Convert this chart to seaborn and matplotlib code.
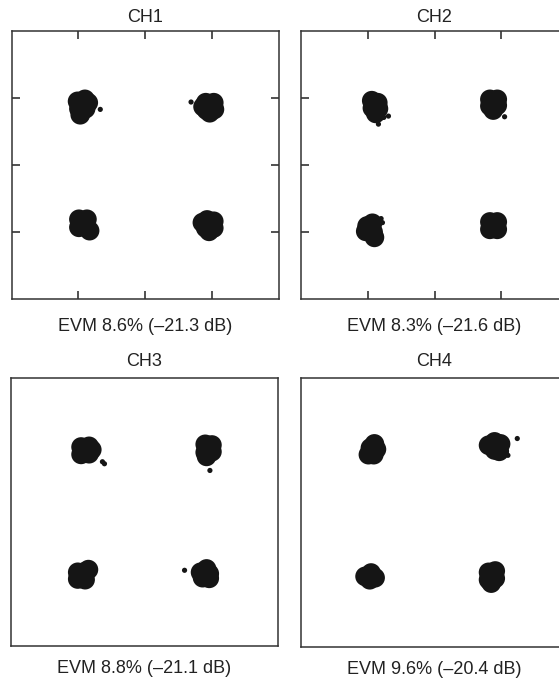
import matplotlib
matplotlib.use("Agg")
import matplotlib.pyplot as plt
import seaborn as sns
import pandas as pd

sns.set_theme(style="white")
plt.rcParams['font.family'] = ['Liberation Sans', 'DejaVu Sans']

# ---------------- data (I/Q symbols) ----------------
channels = ["CH1", "CH2", "CH3", "CH4"]
evm_labels = ["EVM 8.6% (\u201321.3 dB)", "EVM 8.3% (\u201321.6 dB)",
              "EVM 8.8% (\u201321.1 dB)", "EVM 9.6% (\u201320.4 dB)"]
tick_values = [-1, 0, 1]

ch1_i = [-1.01, -0.90, -0.99, -0.89, -0.97, -0.85,
         0.91, 1.03, 0.92, 1.04, 0.97, 0.87,
         -0.99, -0.87, -0.99, -0.87, -0.83,
         0.93, 1.03, 0.91, 1.03, 0.96, 0.86]
ch1_q = [0.95, 0.98, 0.84, 0.84, 0.75, 0.93,
         0.93, 0.93, 0.82, 0.83, 0.78, 0.87,
         -0.81, -0.81, -0.93, -0.93, -0.98,
         -0.82, -0.84, -0.94, -0.94, -0.99, -0.86]
ch1_out_i = [-0.67, 0.69]
ch1_out_q = [0.83, 0.94]

ch2_i = [-0.94, -0.85, -0.93, -0.84, -0.88,
         0.83, 0.94, 0.83, 0.94, 0.88,
         -1.01, -0.93, -1.03, -0.92, -0.90,
         0.83, 0.94, 0.83, 0.94]
ch2_q = [0.96, 0.93, 0.85, 0.84, 0.77,
         0.98, 0.98, 0.88, 0.89, 0.82,
         -0.91, -0.87, -0.99, -1.00, -1.08,
         -0.85, -0.85, -0.96, -0.96]
ch2_out_i = [-0.84, -0.69, -0.75, -0.76, 1.05, 0.80, -0.80, -0.78]
ch2_out_q = [0.61, 0.73, 0.85, 0.71, 0.72, 0.78, -0.80, -0.86]

ch3_i = [-0.95, -0.83, -0.95, -0.83, -0.79,
         0.91, 1.01, 0.91, 1.01, 0.93,
         -1.00, -0.89, -1.00, -0.89, -0.84,
         0.84, 0.93, 0.97, 0.87, 0.97]
ch3_q = [0.97, 0.98, 0.86, 0.87, 0.93,
         1.01, 1.00, 0.89, 0.90, 0.83,
         -0.90, -0.89, -1.00, -1.01, -0.86,
         -0.90, -0.85, -0.92, -0.98, -0.99]
ch3_out_i = [-0.60, -0.63, 0.98, 0.60]
ch3_out_q = [0.72, 0.75, 0.62, -0.87]

ch4_i = [-0.90, -0.96, -0.87, -0.99, -0.91,
         0.81, 0.90, 0.99, 0.90, 0.97,
         -1.04, -0.95, -0.97, -0.89,
         0.81, 0.91, 0.81, 0.91, 0.85]
ch4_q = [1.02, 0.96, 0.94, 0.86, 0.86,
         1.00, 1.05, 1.02, 0.93, 0.91,
         -0.95, -0.90, -1.00, -0.97,
         -0.89, -0.87, -1.00, -0.98, -1.05]
ch4_out_i = [1.24, 1.10]
ch4_out_q = [1.10, 0.85]

clusters = [(ch1_i, ch1_q), (ch2_i, ch2_q), (ch3_i, ch3_q), (ch4_i, ch4_q)]
outliers = [(ch1_out_i, ch1_out_q), (ch2_out_i, ch2_out_q),
            (ch3_out_i, ch3_out_q), (ch4_out_i, ch4_out_q)]

# ---------------- layout ----------------
W, H = 559, 679
fig = plt.figure(figsize=(W / 100, H / 100), dpi=100)

# (left px, top px, width px, height px)
boxes = [(11.5, 31, 267, 268), (301, 31, 267, 268),
         (11, 378, 267, 268), (301, 378, 267, 269)]
title_y = [1.035, 1.035, 1.045, 1.045]
evm_y = [-0.118, -0.118, -0.10, -0.10]
ink = "#151515"

for k in range(4):
    lx, ty, w, h = boxes[k]
    ax = fig.add_axes([lx / W, 1 - (ty + h) / H, w / W, h / H])
    ci, cq = clusters[k]
    oi, oq = outliers[k]
    df = pd.DataFrame({"I": ci, "Q": cq})
    dfo = pd.DataFrame({"I": oi, "Q": oq})
    sns.scatterplot(data=df, x="I", y="Q", ax=ax, s=200, color=ink,
                    edgecolor="none", linewidth=0)
    sns.scatterplot(data=dfo, x="I", y="Q", ax=ax, s=14, color=ink,
                    edgecolor="none", linewidth=0)
    ax.set_xlim(-2, 2)
    ax.set_ylim(-2, 2)
    ax.set_xlabel("")
    ax.set_ylabel("")
    for sp in ax.spines.values():
        sp.set_visible(True)
        sp.set_color("#333333")
        sp.set_linewidth(1.1)
    if k < 2:
        ax.set_xticks(tick_values)
        ax.set_yticks(tick_values)
        ax.tick_params(axis="both", which="both", direction="in", length=6,
                       width=1.1, color="#222222", top=True, bottom=True,
                       left=True, right=True, labelbottom=False,
                       labelleft=False)
    else:
        ax.set_xticks([])
        ax.set_yticks([])
    ax.text(0.5, title_y[k], channels[k], transform=ax.transAxes,
            ha="center", va="baseline", fontsize=13, color="#222222")
    ax.text(0.5, evm_y[k], evm_labels[k], transform=ax.transAxes,
            ha="center", va="baseline", fontsize=13, color="#222222")

fig.savefig("out.png", dpi=100, facecolor="white")
